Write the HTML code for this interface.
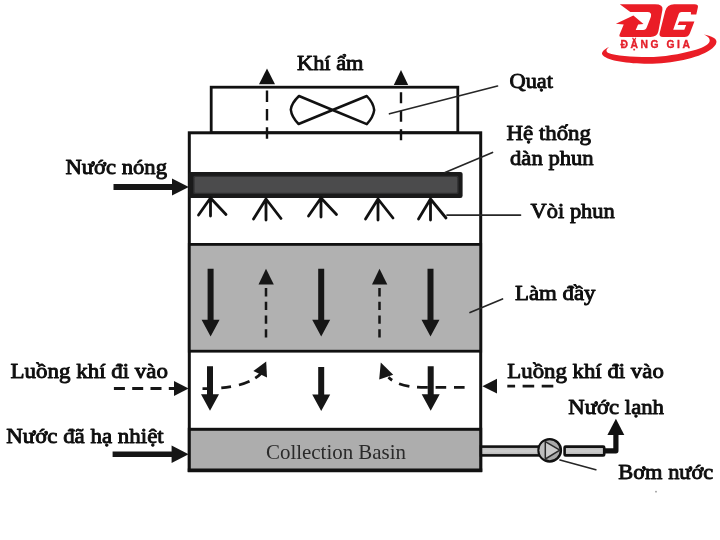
<!DOCTYPE html>
<html lang="vi">
<head>
<meta charset="utf-8">
<title>Tháp giải nhiệt</title>
<style>
html,body{margin:0;padding:0;background:#fff;}
body{width:720px;height:540px;overflow:hidden;font-family:"Liberation Serif",serif;}
svg{display:block;}
.lbl{font-family:"Liberation Serif",serif;font-weight:normal;font-size:21px;fill:#0e0e0e;stroke:#0e0e0e;stroke-width:0.9px;stroke-linejoin:round;}
.reg{font-family:"Liberation Serif",serif;font-weight:normal;font-size:21px;fill:#2a2a2a;}
.logo{font-family:"Liberation Sans",sans-serif;font-weight:bold;fill:#e5202a;}
</style>
</head>
<body>
<svg width="720" height="540" viewBox="0 0 720 540">
<defs><filter id="soft" x="0" y="0" width="720" height="540" filterUnits="userSpaceOnUse" color-interpolation-filters="sRGB"><feGaussianBlur stdDeviation="0.42"/></filter></defs>
<rect x="0" y="0" width="720" height="540" fill="#ffffff"/>
<g filter="url(#soft)">
<rect x="0" y="0" width="720" height="540" fill="#ffffff"/>

<!-- ===== tower body ===== -->
<!-- fan housing -->
<rect x="211.2" y="87.2" width="246.6" height="45.6" fill="#fff" stroke="#111" stroke-width="2.8"/>
<!-- main shell -->
<rect x="189.3" y="132.8" width="291.4" height="337.4" fill="#fff" stroke="#111" stroke-width="3"/>
<!-- fill -->
<rect x="189.3" y="244.4" width="291.4" height="106.8" fill="#b1b1b1" stroke="#111" stroke-width="2.8"/>
<!-- basin -->
<rect x="189.3" y="429.3" width="291.4" height="41.2" fill="#adadad" stroke="#111" stroke-width="3"/>
<path d="M187.8 470.4 H482.2" stroke="#111" stroke-width="3.6" fill="none"/>
<text class="reg" x="266" y="459" textLength="140" lengthAdjust="spacingAndGlyphs">Collection Basin</text>

<!-- spray header -->
<rect x="188.6" y="171.9" width="274" height="26" rx="2.2" fill="#1a1a1a"/>
<rect x="193.2" y="175.8" width="265.4" height="18.2" rx="1.6" fill="#303031"/>
<rect x="194.6" y="177" width="262.6" height="15.8" rx="1.2" fill="#4b4b4c"/>

<!-- nozzles -->
<g stroke="#111" stroke-width="2.8" stroke-linecap="round" fill="none">
<path d="M210.5 198 L198.5 215 M210.5 198 L210.5 216 M210.5 198 L226 214.5"/>
<path d="M266 199 L253.5 219 M266 199 L266 220 M266 199 L281 218.5"/>
<path d="M321 198 L308.5 216 M321 198 L321 217 M321 198 L336.5 214.5"/>
<path d="M378 199 L365.5 219 M378 199 L378 220 M378 199 L393 218"/>
<path d="M430.5 199 L418.5 219 M430.5 199 L430.5 220 M430.5 199 L446 218"/>
</g>

<!-- fan blades -->
<path d="M332.6 110 L299 96 Q291.6 103 290.8 109.6 Q291.6 117 298.6 124 L332.6 110 L366.8 96 Q373.6 103 374.2 110.2 Q373.2 117.5 366.8 124.2 Z" fill="none" stroke="#111" stroke-width="2.5" stroke-linejoin="round"/>

<!-- top dashed arrows -->
<g stroke="#111" stroke-width="2.4" fill="none">
<path d="M267 138.7 L267 90.5" stroke-dasharray="11.5 6.8"/>
<path d="M401 140.2 L401 91.5" stroke-dasharray="11 7.5"/>
</g>
<path d="M267 68.4 L259 84.2 L275 84.2 Z" fill="#111"/>
<path d="M401 70 L393.8 85 L408.2 85 Z" fill="#111"/>

<!-- fill: solid down arrows -->
<g fill="#161616">
<path d="M207.6 268.8 h6 v51 h6 l-9 16.6 l-9 -16.6 h6 Z"/>
<path d="M318.2 268.8 h6 v51 h6 l-9 16.6 l-9 -16.6 h6 Z"/>
<path d="M427.5 268.8 h6 v51 h6 l-9 16.6 l-9 -16.6 h6 Z"/>
</g>
<!-- fill: dashed up arrows -->
<g stroke="#161616" stroke-width="2.5" fill="none" stroke-dasharray="8.3 5.4">
<path d="M266 337.5 L266 285"/>
<path d="M379.5 337.5 L379.5 285"/>
</g>
<path d="M266 268.8 L258.5 284.6 L273.8 284.6 Z" fill="#161616"/>
<path d="M379.5 268.8 L372 284.6 L387.3 284.6 Z" fill="#161616"/>

<!-- rain zone: solid down arrows -->
<g fill="#161616">
<path d="M207 366.3 h6 v28 h6 l-9 16.4 l-9 -16.4 h6 Z"/>
<path d="M318.2 367 h6 v27.5 h6 l-9 16.6 l-9 -16.6 h6 Z"/>
<path d="M427.7 366.3 h6 v28 h6 l-9 16.4 l-9 -16.4 h6 Z"/>
</g>
<!-- rain zone: curved dashed arrows -->
<g stroke="#161616" stroke-width="2.8" fill="none">
<path d="M202.5 388.6 Q246 389 261 373.5" stroke-dasharray="5.2 13.5 9.5 8.5 11 6.5 20"/>
<path d="M464.6 387.4 L421 387.4 Q398 386.8 388.5 377.2" stroke-dasharray="10.6 7.8"/>
</g>
<path d="M266.2 361.4 L253.4 371 L267 377.6 Z" fill="#161616"/>
<path d="M380.8 362.4 L379.2 379.4 L393.2 374.8 Z" fill="#161616"/>

<!-- left inlet arrows -->
<path d="M113.5 184.1 H172 V178.6 L188.8 187 L172 195.4 V189.9 H113.5 Z" fill="#161616"/>
<path d="M112.6 451.4 H171.6 V445.4 L188.6 454.2 L171.6 463 V457.1 H112.6 Z" fill="#161616"/>
<path d="M113.9 388.5 L178 388.5" stroke="#161616" stroke-width="2.8" fill="none" stroke-dasharray="11 7.3"/>
<path d="M188.6 388.5 L174 381 L174 396 Z" fill="#161616"/>

<!-- right air inlet -->
<path d="M553.3 386.2 L507.3 386.2" stroke="#161616" stroke-width="2.8" fill="none" stroke-dasharray="11.6 7.5"/>
<path d="M482.4 386.2 L497 378.8 L497 393.6 Z" fill="#161616"/>

<!-- outlet pipe and pump -->
<defs><linearGradient id="pg" x1="0" y1="0" x2="0" y2="1"><stop offset="0" stop-color="#b4b4b4"/><stop offset="0.5" stop-color="#cfcfcf"/><stop offset="1" stop-color="#b4b4b4"/></linearGradient></defs>
<rect x="481" y="446.6" width="60" height="8.8" fill="url(#pg)" stroke="#111" stroke-width="2.6"/>
<rect x="564.6" y="446.6" width="39.6" height="8.8" rx="1" fill="url(#pg)" stroke="#111" stroke-width="2.6"/>
<path d="M604 450.8 H615.9 V434" stroke="#111" stroke-width="5.2" fill="none" stroke-linejoin="round"/>
<path d="M615.9 418.8 L607.4 434.9 L624.3 434.9 Z" fill="#111"/>
<circle cx="549.7" cy="450.3" r="11.2" fill="#a9a9a9" stroke="#111" stroke-width="2.4"/>
<path d="M545.3 441.2 A10 10 0 0 0 545.3 459.4 Z" fill="#bdbdbd"/>
<path d="M545.3 441.6 L545.3 459 L559.8 450.2 Z" fill="#cbcbcb" stroke="#2a2a2a" stroke-width="1.5" stroke-linejoin="round"/>

<!-- leaders -->
<g stroke="#262626" stroke-width="1.7" fill="none" stroke-linecap="round">
<path d="M389.5 113.8 L497.5 86"/>
<path d="M445 172.5 L492.5 152.5"/>
<path d="M447 215.1 L520.5 215.1"/>
<path d="M470 312.5 L502.5 299"/>
<path d="M560 460 L595.8 469.7"/>
</g>

<!-- labels -->
<text class="lbl" x="297" y="69.5" textLength="66.5" lengthAdjust="spacingAndGlyphs">Khí ẩm</text>
<text class="lbl" x="65.5" y="173.8" textLength="101.5" lengthAdjust="spacingAndGlyphs">Nước nóng</text>
<text class="lbl" x="10.5" y="377.5" textLength="157.5" lengthAdjust="spacingAndGlyphs">Luồng khí đi vào</text>
<text class="lbl" x="6.2" y="442.5" textLength="157.5" lengthAdjust="spacingAndGlyphs">Nước đã hạ nhiệt</text>
<text class="lbl" x="509.5" y="88" textLength="43.5" lengthAdjust="spacingAndGlyphs">Quạt</text>
<text class="lbl" x="506.5" y="139.5" textLength="84.5" lengthAdjust="spacingAndGlyphs">Hệ thống</text>
<text class="lbl" x="510" y="165" textLength="83.7" lengthAdjust="spacingAndGlyphs">dàn phun</text>
<text class="lbl" x="530.6" y="218" textLength="84.2" lengthAdjust="spacingAndGlyphs">Vòi phun</text>
<text class="lbl" x="515" y="299.5" textLength="80.5" lengthAdjust="spacingAndGlyphs">Làm đầy</text>
<text class="lbl" x="507.3" y="377.7" textLength="156.5" lengthAdjust="spacingAndGlyphs">Luồng khí đi vào</text>
<text class="lbl" x="568.3" y="413.5" textLength="95.7" lengthAdjust="spacingAndGlyphs">Nước lạnh</text>
<text class="lbl" x="618.3" y="479.3" textLength="95" lengthAdjust="spacingAndGlyphs">Bơm nước</text>

<!-- ===== logo ===== -->
<g id="logo" fill="#ea1d26">
<path d="M619.8 4.2 L655 4.2 Q663.6 4.2 662.4 10 L658.4 31.3 Q657.2 37 650.4 37 L621.4 37 Q618.9 37 619.5 34.8 L623.7 24.5 L615.9 23.7 L633.4 15.6 L643.5 24.1 L638.1 24.5 L635.7 29.9 L643.1 29.9 Q646 29.9 646.9 27 L650.9 16.7 Q652 12.1 647.5 12.1 L630.3 12.1 Z"/>
<path d="M674.2 4.2 L694.5 4.2 Q698.6 4.2 697.9 7.2 L696.3 14.4 L690.9 14.4 L690.9 12.1 L681.5 12.1 Q679.4 12.1 678.8 13.8 L673.2 29.7 L684.3 29.7 L686.2 25.1 L677.6 25.1 L679.2 21.6 L694.4 21.6 L689.8 33.5 Q688.4 37 684.4 37 L663 37 Q658.6 37 659.7 32.8 L665.2 11 Q667 4.2 674.2 4.2 Z"/>
<path d="M609 47 C603 50 600.5 53 603 55.5 C608 60.8 628 63.7 648 63.7 C672 63.7 698 58.3 710 50 C717.5 45 718 40.5 714 38 C711 36 707 35 703.6 34.5 C707.5 36 710 38 709.7 41 C709 45 701 48.5 693 50.5 C680 54 664 57.1 647.7 57.1 C632 57.1 615 55.8 608.5 53 C605.5 51.5 606 49.5 609 47 Z"/>
<text class="logo" x="620.5" y="48.3" font-size="10.3" textLength="69.4" lengthAdjust="spacing" stroke="#e5202a" stroke-width="0.35">ĐẶNG GIA</text>
</g>
<circle cx="656" cy="491.7" r="0.9" fill="#9a9a9a"/>
</g>
</svg>
</body>
</html>
